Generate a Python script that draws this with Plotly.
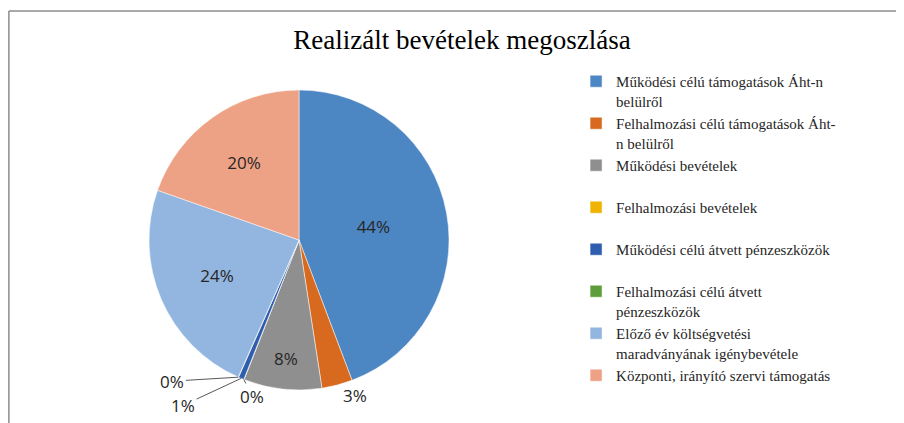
import math
import plotly.graph_objects as go

labels = [
    "Működési célú támogatások Áht-n<br>belülről",
    "Felhalmozási célú támogatások Áht-<br>n belülről",
    "Működési bevételek<br> ",
    "Felhalmozási bevételek<br> ",
    "Működési célú átvett pénzeszközök<br> ",
    "Felhalmozási célú átvett<br>pénzeszközök",
    "Előző év költségvetési<br>maradványának igénybevétele",
    "Központi, irányító szervi támogatás",
]
values = [44.2, 3.3, 8.4, 0.04, 0.6, 0.04, 23.7, 19.6]
colors = ["#4D87C3", "#D86A1F", "#8F8F8F", "#F0B400", "#2F5DB0", "#5E9E3A", "#92B6E0", "#EEA285"]
positions = ["inside", "outside", "inside", "none", "none", "none", "inside", "inside"]

W, H = 896, 415
dom_x = [0.1574, 0.4922]
dom_y = [0.0795, 0.8024]

fig = go.Figure(go.Pie(
    labels=labels,
    values=values,
    sort=False,
    direction="clockwise",
    rotation=0,
    marker=dict(colors=colors, line=dict(color="white", width=0.5)),
    texttemplate="%{percent:.0%}",
    textposition=positions,
    textfont=dict(family="Open Sans, DejaVu Sans, sans-serif", size=17, color="#262626"),
    insidetextorientation="horizontal",
    domain=dict(x=dom_x, y=dom_y),
    showlegend=True,
))

# leader-line labels for the tiny slices (anchor derived from the data)
total = sum(values)
cx = (dom_x[0] + dom_x[1]) / 2 * W
cy = (dom_y[0] + dom_y[1]) / 2 * H
r = min((dom_x[1] - dom_x[0]) * W, (dom_y[1] - dom_y[0]) * H) / 2
offsets = {3: (8, 17), 4: (-58, 27), 5: (-66, 4)}
annotations = []
cum = 0.0
for i, v in enumerate(values):
    mid = (cum + v / 2) / total
    cum += v
    if i in offsets:
        th = 2 * math.pi * mid
        px = cx + r * math.sin(th)
        py = cy + r * math.cos(th)
        ax, ay = offsets[i]
        annotations.append(dict(
            x=px / W, y=py / H, xref="paper", yref="paper",
            text=f"{v / total:.0%}", showarrow=True, arrowhead=0, arrowwidth=1,
            arrowcolor="#595959", ax=ax, ay=ay, standoff=0,
            font=dict(family="Open Sans, DejaVu Sans, sans-serif", size=17, color="#262626"),
        ))

fig.update_layout(
    width=W, height=H,
    margin=dict(l=0, r=0, t=0, b=0, autoexpand=False),
    paper_bgcolor="white",
    plot_bgcolor="white",
    title=dict(text="Realizált bevételek megoszlása", x=0.5067, xanchor="center", y=0.923, yanchor="middle",
               font=dict(family="Liberation Serif, Times New Roman, serif", size=27, color="#000000")),
    legend=dict(x=0.634, xanchor="left", y=0.8627, yanchor="top", valign="top",
                font=dict(family="Liberation Serif, Times New Roman, serif", size=15, color="#262626"),
                itemwidth=30, tracegroupgap=0),
    annotations=annotations,
    shapes=[
        dict(type="line", xref="paper", yref="paper", x0=0.001, x1=0.001, y0=-0.1, y1=1 - 3 / H,
             line=dict(color="#8C8C8C", width=1.5), layer="below"),
        dict(type="line", xref="paper", yref="paper", x0=0.001, x1=1.2, y0=1 - 3 / H, y1=1 - 3 / H,
             line=dict(color="#8C8C8C", width=1.5), layer="below"),
    ],
)

fig.write_html("out.html", post_script="document.body.style.overflow='hidden';")
